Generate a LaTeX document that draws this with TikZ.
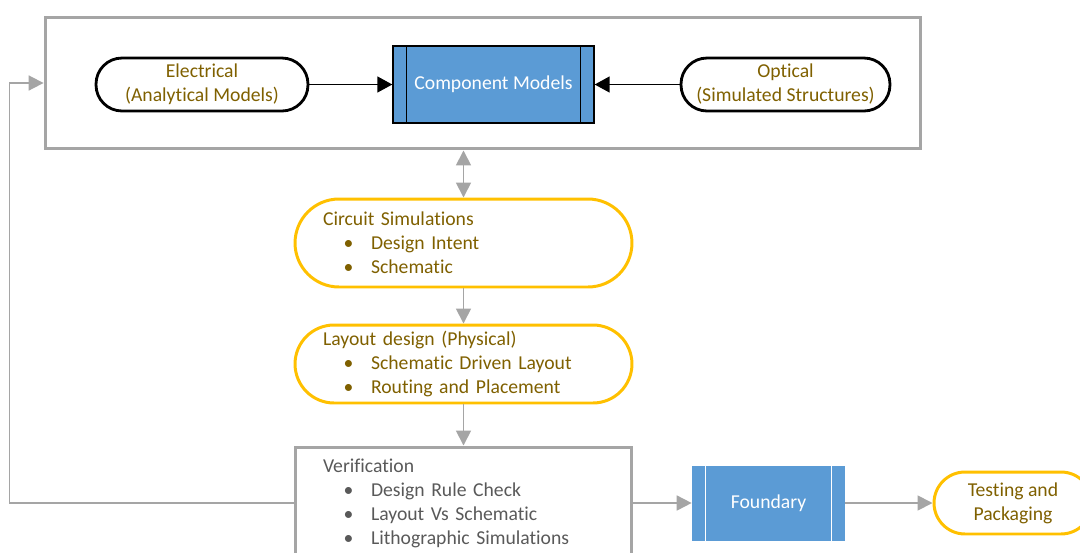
\documentclass[tikz,border=0pt]{standalone}
\usepackage{fontspec}
\setmainfont{Carlito}[Ligatures=NoCommon]
\usetikzlibrary{positioning,arrows.meta}
\definecolor{procblue}{RGB}{91,155,213}
\definecolor{pillgold}{RGB}{255,192,0}
\definecolor{textgold}{RGB}{127,96,0}
\definecolor{linegray}{RGB}{165,165,165}
\definecolor{textgray}{RGB}{89,89,89}
\newcommand{\bitem}[1]{\makebox[0.96cm][r]{\textbullet\hspace{0.35cm}}#1}
\tikzset{
  blackarrow/.style={-{Triangle[length=3mm, width=3.2mm]}, line width=0.8pt},
  grayarrow/.style={-{Triangle[length=3mm, width=3mm]}, line width=1pt, draw=linegray},
  graydouble/.style={{Triangle[length=3mm, width=3mm]}-{Triangle[length=3mm, width=3mm]}, line width=1pt, draw=linegray},
  framebox/.style={draw=linegray, line width=1.7pt},
  blackpill/.style={draw, line width=1.6pt, rounded corners=0.52cm, minimum width=4.24cm, minimum height=1.06cm, align=center, text=textgold},
  yellowpill/.style={draw=pillgold, line width=1.7pt, align=left, text=textgold, inner xsep=0.56cm, text width=5.62cm},
  procbox/.style={fill=procblue, text=white, align=center}
}

\begin{document}
\begin{tikzpicture}[x=0.02cm, y=-0.02cm, every node/.style={font=\fontsize{11.2}{13.66}\selectfont}]
  \clip (0,0) rectangle (1080,552);
  % models frame
  \node[framebox, minimum width=17.52cm, minimum height=2.64cm] (models) at (483,83) {};
  \node[blackpill] (elec) at (202,84.5) {Electrical\\(Analytical Models)};
  \node[procbox, draw=black, line width=0.8pt, minimum width=4.02cm, minimum height=1.54cm] (comp) at (493.5,84.5) {Component Models};
  \node[blackpill, minimum width=4.18cm] (opt) at (785.5,84.5) {Optical\\(Simulated Structures)};
  \draw[line width=0.8pt] ([xshift=0.28cm]comp.north west) -- ([xshift=0.28cm]comp.south west);
  \draw[line width=0.8pt] ([xshift=-0.28cm]comp.north east) -- ([xshift=-0.28cm]comp.south east);
  \draw[blackarrow] (elec) -- (comp);
  \draw[blackarrow] (opt) -- (comp);

  % design flow
  \node[yellowpill, minimum height=1.76cm, rounded corners=0.88cm] (circ) at (463.5,243)
    {Circuit Simulations\\\bitem{Design Intent}\\\bitem{Schematic}};
  \node[yellowpill, minimum height=1.56cm, rounded corners=0.78cm] (lay) at (463.5,364)
    {Layout design (Physical)\\\bitem{Schematic Driven Layout}\\\bitem{Routing and Placement}};
  \node[framebox, text=textgray, align=left, inner xsep=0.56cm, text width=5.62cm, minimum height=2.24cm] (verif) at (463.5,503)
    {Verification\\\bitem{Design Rule Check}\\\bitem{Layout Vs Schematic}\\\bitem{Lithographic Simulations}};
  \node[procbox, minimum width=3.06cm, minimum height=1.5cm] (found) at (768.5,503) {Foundary};
  \draw[white, line width=0.8pt] ([xshift=0.28cm]found.north west) -- ([xshift=0.28cm]found.south west);
  \draw[white, line width=0.8pt] ([xshift=-0.28cm]found.north east) -- ([xshift=-0.28cm]found.south east);
  \node[draw=pillgold, line width=1.7pt, rounded corners=0.62cm, minimum width=3.16cm, minimum height=1.24cm, align=center, text=textgold] (test) at (1013,503) {Testing and\\Packaging};

  \draw[graydouble] (circ.north |- models.south) -- (circ.north);
  \draw[grayarrow] (circ) -- (lay);
  \draw[grayarrow] (lay) -- (verif);
  \draw[grayarrow] (verif.west) -- ++(-284,0) |- (models.west);
  \draw[grayarrow] (verif) -- (found);
  \draw[grayarrow] (found) -- (test);
\end{tikzpicture}
\end{document}
